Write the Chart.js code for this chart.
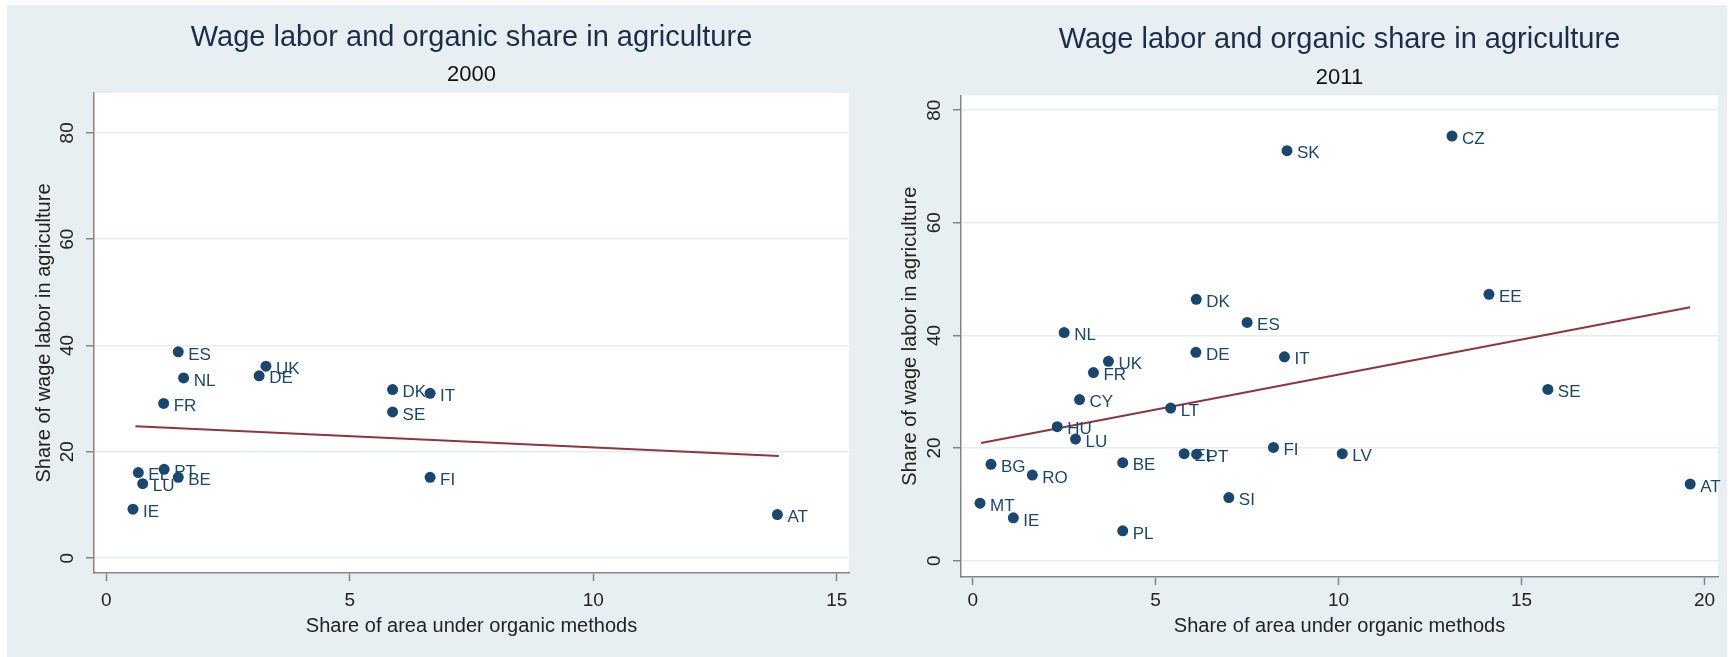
<!DOCTYPE html>
<html>
<head>
<meta charset="utf-8">
<script src="https://cdn.jsdelivr.net/npm/chart.js@4/dist/chart.umd.min.js"></script>
<style>
  body { margin: 0; background: #fff; }
  .panel { position: absolute; left: 7px; top: 5px; width: 1720px; height: 652px; background: #e7eff2; }
  canvas { position: absolute; top: 0; }
  #c2000 { left: 0; }
  #c2011 { left: 866px; }
</style>
</head>
<body>
<div class="panel"></div>
<canvas id="c2000" width="866" height="657"></canvas>
<canvas id="c2011" width="866" height="657"></canvas>
<script>
// 2000
const codes2000 = ["ES", "NL", "FR", "UK", "DE", "DK", "IT", "SE", "FI", "IE", "EL", "LU", "PT", "BE", "AT"];
const organic2000 = [1.48, 1.59, 1.18, 3.28, 3.14, 5.88, 6.65, 5.88, 6.65, 0.55, 0.66, 0.75, 1.19, 1.48, 13.78];
const wage2000 = [38.8, 33.9, 29.1, 36.1, 34.3, 31.7, 31.0, 27.5, 15.2, 9.2, 16.1, 14.0, 16.7, 15.2, 8.2];
const fitX2000 = [0.6, 13.81];
const fitY2000 = [24.8, 19.2];

// 2011
const codes2011 = ["NL", "DE", "IT", "UK", "FR", "CY", "LT", "HU", "LU", "FI", "EL", "PT", "LV", "BG", "BE",
  "RO", "SI", "MT", "IE", "PL", "SK", "CZ", "DK", "EE", "ES", "SE", "AT"];
const organic2011 = [2.50, 6.10, 8.52, 3.71, 3.30, 2.92, 5.41, 2.31, 2.81, 8.22, 5.78, 6.12, 10.10, 0.50, 4.10,
  1.63, 7.00, 0.20, 1.11, 4.10, 8.59, 13.10, 6.11, 14.11, 7.50, 15.72, 19.61];
const wage2011 = [40.5, 37.0, 36.2, 35.4, 33.4, 28.6, 27.1, 23.8, 21.6, 20.1, 19.0, 18.9, 19.0, 17.1, 17.4,
  15.2, 11.2, 10.2, 7.6, 5.3, 72.8, 75.4, 46.4, 47.3, 42.3, 30.4, 13.6];
const fitX2011 = [0.23, 19.61];
const fitY2011 = [20.9, 45.0];

const FONT = "'Liberation Sans', Arial, sans-serif";
const NAVY = "#1a476f";

const toPoints = (xs, ys) => xs.map((x, i) => ({ x: x, y: ys[i] }));

const plotBg = {
  id: 'plotBg',
  beforeDraw(chart) {
    const a = chart.chartArea;
    const ctx = chart.ctx;
    ctx.save();
    ctx.fillStyle = '#fff';
    ctx.fillRect(a.left, a.top, a.right - a.left, a.bottom - a.top);
    ctx.restore();
  }
};

const pointLabels = {
  id: 'pointLabels',
  afterDatasetsDraw(chart) {
    const ctx = chart.ctx;
    const meta = chart.getDatasetMeta(1);
    const codes = chart.data.datasets[1].codes;
    ctx.save();
    ctx.font = "17px " + FONT;
    ctx.fillStyle = NAVY;
    ctx.textBaseline = 'middle';
    meta.data.forEach((pt, i) => {
      ctx.fillText(codes[i], pt.x + 10, pt.y + 3);
    });
    ctx.restore();
  }
};

function makeChart(id, year, codes, xs, ys, fx, fy, o) {
  return new Chart(document.getElementById(id), {
    type: 'scatter',
    data: {
      datasets: [
        {
          data: toPoints(fx, fy),
          showLine: true,
          borderColor: '#90353b',
          borderWidth: 2,
          pointRadius: 0,
          order: 2
        },
        {
          data: toPoints(xs, ys),
          codes: codes,
          backgroundColor: NAVY,
          borderWidth: 0,
          pointRadius: 5.5,
          order: 1
        }
      ]
    },
    options: {
      responsive: false,
      animation: false,
      layout: { padding: { left: 0, top: 0, bottom: 0, right: o.padRight } },
      plugins: {
        legend: { display: false },
        tooltip: { enabled: false },
        title: {
          display: true,
          text: 'Wage labor and organic share in agriculture',
          fullSize: false,
          color: '#1c2d48',
          font: { family: FONT, size: 29, weight: 'normal' },
          padding: { top: o.titleTop, bottom: 0 }
        },
        subtitle: {
          display: true,
          text: year,
          fullSize: false,
          color: '#111',
          font: { family: FONT, size: 22 },
          padding: { top: o.subTop, bottom: 4.8 }
        }
      },
      scales: {
        x: {
          type: 'linear',
          min: o.xMin,
          max: o.xMax,
          afterFit: (s) => { s.height = o.xHeight; },
          border: { color: '#858585', width: 1.5 },
          grid: { drawOnChartArea: false, tickColor: '#858585', tickLength: 8, tickWidth: 1.5 },
          ticks: {
            stepSize: 5,
            includeBounds: false,
            padding: o.xTickPad,
            color: '#222',
            font: { family: FONT, size: 19 }
          },
          title: {
            display: true,
            text: 'Share of area under organic methods',
            color: '#222',
            font: { family: FONT, size: 20 },
            padding: { top: 0, bottom: 19 }
          }
        },
        y: {
          type: 'linear',
          min: o.yMin,
          max: o.yMax,
          afterFit: (s) => { s.width = o.yWidth; },
          border: { color: '#858585', width: 1.5 },
          grid: { color: '#e4edf0', lineWidth: 1.5, tickColor: '#858585', tickLength: 8, tickWidth: 1.5 },
          ticks: {
            stepSize: 20,
            includeBounds: false,
            minRotation: 90,
            maxRotation: 90,
            crossAlign: 'center',
            padding: 8,
            color: '#222',
            font: { family: FONT, size: 19 }
          },
          title: {
            display: true,
            text: 'Share of wage labor in agriculture',
            color: '#222',
            font: { family: FONT, size: 20 },
            padding: { top: 32, bottom: 0 }
          }
        }
      }
    },
    plugins: [plotBg, pointLabels]
  });
}

makeChart('c2000', '2000', codes2000, organic2000, wage2000, fitX2000, fitY2000, {
  padRight: 17, titleTop: 20.6, subTop: 6.4, xHeight: 84, yWidth: 94, xTickPad: 8,
  xMin: -0.25, xMax: 15.25, yMin: -2.8, yMax: 87.5
});

makeChart('c2011', '2011', codes2011, organic2011, wage2011, fitX2011, fitY2011, {
  padRight: 14, titleTop: 22.4, subTop: 7.1, xHeight: 80, yWidth: 95, xTickPad: 4,
  xMin: -0.32, xMax: 20.37, yMin: -2.9, yMax: 82.6
});
</script>
</body>
</html>
